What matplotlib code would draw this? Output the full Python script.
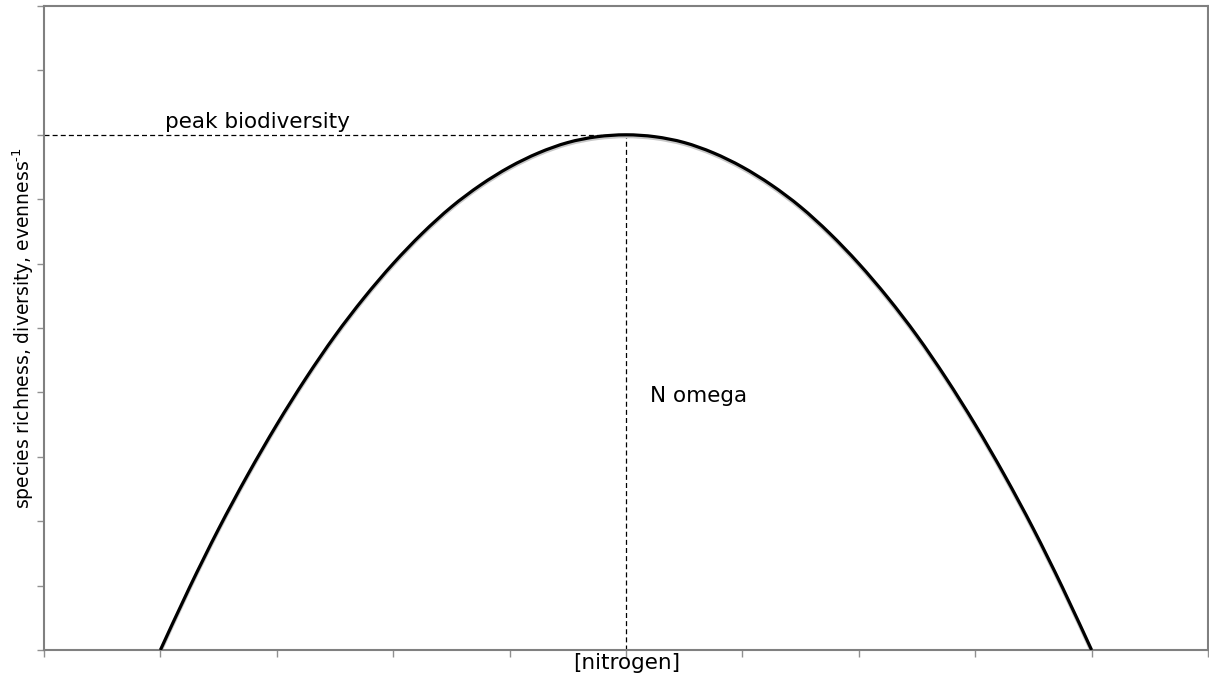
import matplotlib
matplotlib.use("Agg")
import matplotlib.pyplot as plt
import matplotlib.transforms as mtransforms
from matplotlib.path import Path
from matplotlib.patches import PathPatch

# values (arbitrary units, axes 0-10)
nitrogen = [1.0, 1.25, 1.5, 1.75, 2.0, 2.25, 2.5, 2.75, 3.0, 3.25, 3.5, 3.75,
            4.0, 4.25, 4.5, 4.75, 5.0, 5.25, 5.5, 5.75, 6.0, 6.25, 6.5, 6.75,
            7.0, 7.25, 7.5, 7.75, 8.0, 8.25, 8.5, 8.75, 9.0]
richness = [0.0, 0.97, 1.88, 2.72, 3.5, 4.22, 4.88, 5.47, 6.0, 6.47, 6.88, 7.22,
            7.5, 7.72, 7.88, 7.97, 8.0, 7.97, 7.88, 7.72, 7.5, 7.22, 6.88, 6.47,
            6.0, 5.47, 4.88, 4.22, 3.5, 2.72, 1.88, 0.97, 0.0]
peak_x = 5.0
peak_y = 8.0


def smooth_path(xs, ys):
    # excel-style smoothed line: catmull-rom segments as cubic beziers
    pts = list(zip(xs, ys))
    n = len(pts)
    verts = [pts[0]]
    codes = [Path.MOVETO]
    for i in range(n - 1):
        p0 = pts[max(i - 1, 0)]
        p1 = pts[i]
        p2 = pts[i + 1]
        p3 = pts[min(i + 2, n - 1)]
        c1 = (p1[0] + (p2[0] - p0[0]) / 6, p1[1] + (p2[1] - p0[1]) / 6)
        c2 = (p2[0] - (p3[0] - p1[0]) / 6, p2[1] - (p3[1] - p1[1]) / 6)
        verts += [c1, c2, p2]
        codes += [Path.CURVE4] * 3
    return Path(verts, codes)


fig = plt.figure(figsize=(12.09, 6.78), dpi=100)
ax = fig.add_axes([44 / 1209, 28 / 678, 1164 / 1209, 644 / 678])

curve = smooth_path(nitrogen, richness)
shadow = mtransforms.offset_copy(ax.transData, fig=fig, x=0, y=-1.2, units='points')
ax.add_patch(PathPatch(curve, fill=False, edgecolor='#c8c8c8', lw=2.6, transform=shadow, zorder=2))
ax.add_patch(PathPatch(curve, fill=False, edgecolor='black', lw=2.3, zorder=3))

ax.plot([0, peak_x], [peak_y, peak_y], color='black', lw=0.9, ls=(0, (4, 2.5)), zorder=1)
ax.plot([peak_x, peak_x], [0, peak_y], color='black', lw=0.9, ls=(0, (4, 2.5)), zorder=1)

ax.text(1.04, 8.04, 'peak biodiversity', fontsize=15.5, ha='left', va='bottom')
ax.text(5.21, 3.95, 'N omega', fontsize=15.5, ha='left', va='center')

ax.set_xlim(0, 10)
ax.set_ylim(0, 10)
ax.set_xticks(range(11))
ax.set_yticks(range(11))
ax.set_xticklabels([])
ax.set_yticklabels([])
ax.tick_params(direction='out', length=5, width=1, color='#909090')

for s in ax.spines.values():
    s.set_color('#808080')
    s.set_linewidth(1.5)

fig.text(627 / 1209, 1 - 663 / 678, '[nitrogen]', fontsize=15.5, ha='center', va='center')
fig.text(23 / 1209, 1 - 328 / 678, 'species richness, diversity, evenness$^{\\text{-1}}$',
         fontsize=13.5, rotation=90, ha='center', va='center')

fig.savefig('out.png', dpi=100)
